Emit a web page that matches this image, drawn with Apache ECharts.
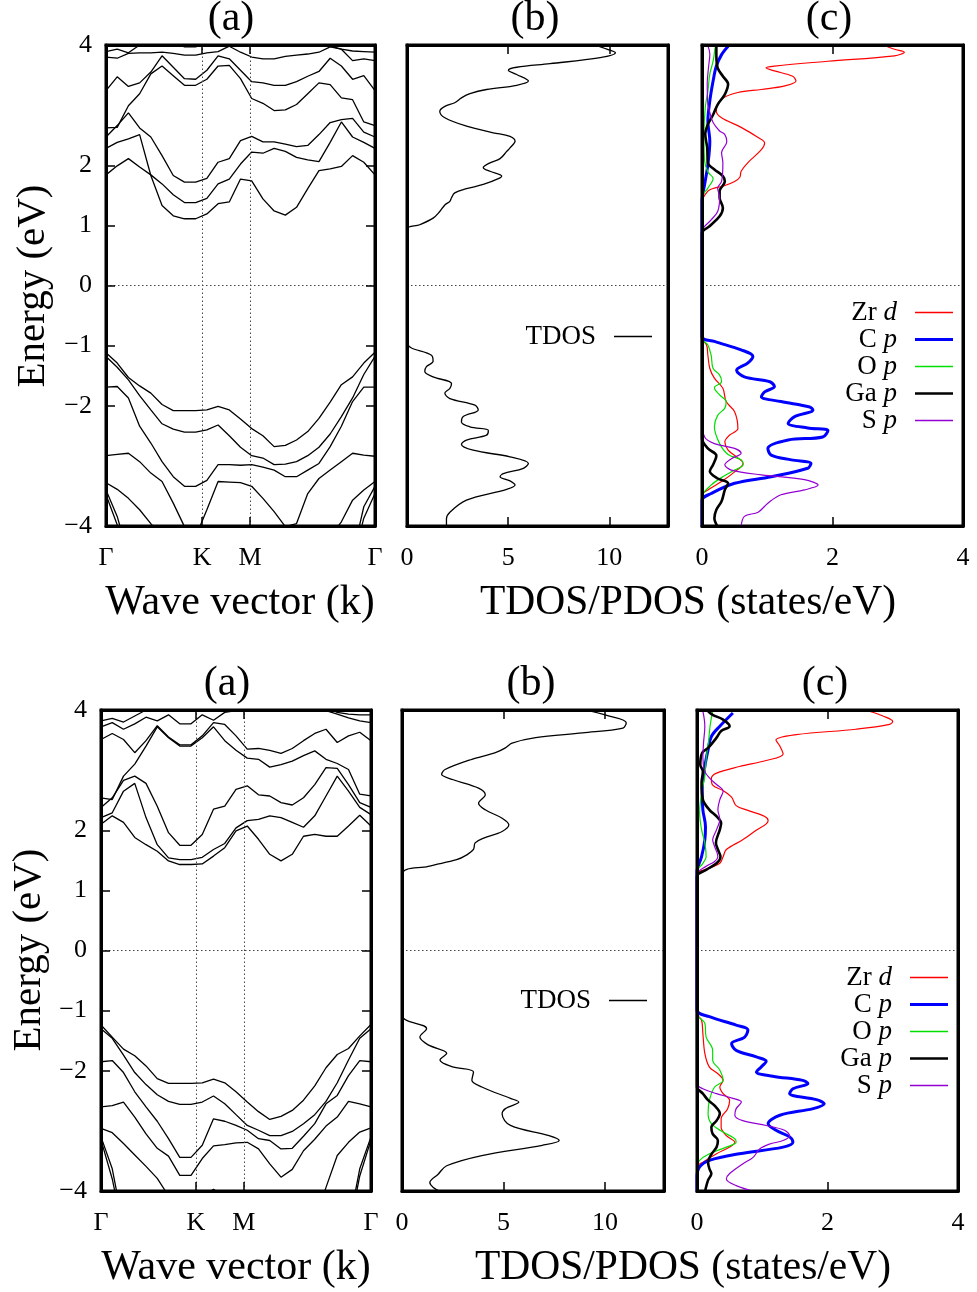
<!DOCTYPE html>
<html>
<head>
<meta charset="utf-8">
<script src="https://cdn.jsdelivr.net/npm/echarts@6/dist/echarts.min.js"></script>
<style>
html, body { margin: 0; padding: 0; background: #fff; }
#chart { width: 977px; height: 1292px; }
</style>
</head>
<body>
<div id="chart"></div>
<script>
// k-point index along the path Γ-K-M-Γ
const kGrid = [0,1,2,3,4,5,6,7,8,9,10,11,12,13,14,15,16,17,18,19,20,21,22,23,24];
const topKTicks = [0, 8.57, 12.86, 24];
const botKTicks = [0, 8.44, 12.7, 24];
const kLabels = ["Γ", "K", "M", "Γ"];
const energyTicks = [-4, -2, -1, 0, 1, 2, 4];
const tdosTicks = [0, 5, 10];
const pdosTicks = [0, 2, 4];

// top row band energies (eV) at each k index
const topCB1 = [2.28,2.38,2.44,2.51,1.83,1.33,1.16,1.11,1.11,1.19,1.36,1.39,1.77,1.74,1.44,1.24,1.17,1.30,1.61,1.91,1.94,1.98,2.16,2.05,1.84];
const topCB2 = [1.84,1.99,2.11,1.97,1.84,1.69,1.51,1.38,1.38,1.45,1.69,1.77,2.02,2.22,2.20,2.28,2.23,2.13,2.09,2.06,2.38,2.72,2.47,2.38,2.28];
const topCB3 = [2.47,2.66,2.87,2.62,2.47,2.16,1.83,1.72,1.72,1.78,2.05,2.11,2.41,2.48,2.39,2.39,2.35,2.31,2.33,2.51,2.71,2.76,2.78,2.55,2.47];
const topCB4 = [2.62,2.63,2.99,3.19,3.52,3.65,3.49,3.33,3.33,3.43,3.65,3.66,3.44,3.11,3.03,2.91,2.92,3.01,3.19,3.37,3.34,3.12,3.09,2.72,2.66];
const topCB5 = [3.24,3.47,3.31,3.37,3.55,3.82,3.63,3.44,3.43,3.58,3.82,3.77,3.58,3.39,3.37,3.33,3.33,3.39,3.48,3.56,3.78,3.65,3.43,3.49,3.24];
const topCB6 = [3.80,3.78,3.86,3.87,3.87,3.88,3.86,3.83,3.83,3.87,3.89,3.98,3.88,3.80,3.77,3.77,3.81,3.83,3.85,3.88,3.97,3.93,3.74,3.77,3.74];
const topCB7 = [3.89,3.93,3.87,4.00,4.10,4.15,4.05,3.97,3.97,4.05,4.15,4.20,4.20,4.15,4.10,4.10,4.10,4.10,4.10,4.05,3.98,3.93,3.90,3.89,3.88];
const topVB1 = [-1.12,-1.29,-1.53,-1.67,-1.79,-1.98,-2.08,-2.08,-2.08,-2.07,-2.01,-2.07,-2.22,-2.38,-2.50,-2.68,-2.66,-2.57,-2.43,-2.21,-1.94,-1.65,-1.52,-1.29,-1.11];
const topVB2 = [-1.18,-1.36,-1.57,-1.83,-2.07,-2.30,-2.39,-2.44,-2.44,-2.40,-2.32,-2.50,-2.69,-2.83,-2.87,-2.98,-2.97,-2.93,-2.83,-2.69,-2.47,-2.18,-1.87,-1.48,-1.18];
const topVB3 = [-1.69,-1.68,-1.87,-2.34,-2.62,-2.93,-3.18,-3.34,-3.34,-3.24,-2.98,-2.98,-2.99,-2.98,-3.02,-3.07,-3.18,-3.18,-3.07,-2.96,-2.68,-2.34,-1.93,-1.69,-1.69];
const topVB4 = [-2.83,-2.81,-2.79,-2.93,-3.12,-3.26,-3.62,-4.01,-4.18,-3.73,-3.26,-3.27,-3.28,-3.34,-3.54,-3.76,-4.01,-3.96,-3.46,-3.21,-3.07,-2.93,-2.79,-2.82,-2.84];
const topVB5 = [-3.28,-3.39,-3.54,-3.73,-3.96,-4.18,-4.5,-4.5,-4.5,-4.5,-4.5,-4.5,-4.5,-4.5,-4.5,-4.5,-4.5,-4.5,-4.5,-4.5,-4.18,-3.93,-3.57,-3.40,-3.26];
const topVB6 = [-3.40,-3.84,-4.5,-4.5,-4.5,-4.5,-4.5,-4.5,-4.5,-4.5,-4.5,-4.5,-4.5,-4.5,-4.5,-4.5,-4.5,-4.5,-4.5,-4.5,-4.5,-4.5,-4.5,-3.68,-3.34];
const topVB7 = [-3.48,-3.98,-4.6,-4.6,-4.6,-4.6,-4.6,-4.6,-4.6,-4.6,-4.6,-4.6,-4.6,-4.6,-4.6,-4.6,-4.6,-4.6,-4.6,-4.6,-4.6,-4.6,-4.6,-3.87,-3.46];

// bottom row band energies (eV)
const botCB1 = [2.10,2.24,2.13,1.88,1.76,1.65,1.49,1.43,1.43,1.44,1.57,1.71,1.99,2.07,1.85,1.60,1.49,1.60,1.90,1.93,1.90,1.90,2.07,2.25,2.07];
const botCB2 = [2.21,2.29,2.65,2.78,2.21,1.76,1.54,1.51,1.51,1.55,1.68,1.78,2.04,2.16,2.18,2.24,2.21,2.13,2.05,2.24,2.57,2.90,2.65,2.38,2.26];
const botCB3 = [2.38,2.54,2.83,2.90,2.78,2.40,1.96,1.75,1.75,1.93,2.35,2.40,2.68,2.74,2.59,2.57,2.46,2.42,2.54,2.76,3.04,3.03,2.76,2.46,2.38];
const botCB4 = [2.54,2.51,2.90,3.10,3.40,3.72,3.54,3.40,3.40,3.54,3.72,3.49,3.33,3.20,3.18,3.05,3.09,3.15,3.24,3.32,3.18,3.11,3.01,2.60,2.57];
const botCB5 = [3.51,3.61,3.51,3.29,3.49,3.74,3.55,3.42,3.42,3.57,3.79,3.76,3.57,3.35,3.36,3.33,3.28,3.36,3.49,3.61,3.68,3.46,3.57,3.63,3.49];
const botCB6 = [3.72,3.79,3.68,3.77,3.88,3.82,3.92,3.77,3.77,3.92,3.83,3.96,3.99,4.10,4.15,4.12,4.10,4.08,4.05,4.02,3.99,3.93,3.87,3.82,3.79];
const botCB7 = [3.82,3.86,3.80,3.90,4.00,4.10,4.10,4.05,4.05,4.10,4.10,4.10,4.10,4.10,4.10,4.10,4.10,4.10,4.10,4.10,4.05,3.96,3.93,3.92,3.92];
const botVB1 = [-1.24,-1.44,-1.64,-1.75,-1.92,-2.13,-2.21,-2.21,-2.21,-2.20,-2.14,-2.20,-2.35,-2.52,-2.68,-2.81,-2.76,-2.66,-2.49,-2.25,-1.95,-1.73,-1.63,-1.42,-1.23];
const botVB2 = [-1.30,-1.46,-1.74,-2.03,-2.23,-2.40,-2.51,-2.56,-2.56,-2.52,-2.42,-2.55,-2.73,-2.91,-2.99,-3.08,-3.08,-3.01,-2.88,-2.73,-2.51,-2.20,-1.82,-1.46,-1.30];
const botVB3 = [-1.85,-1.83,-2.03,-2.35,-2.60,-2.84,-3.13,-3.44,-3.44,-3.24,-2.80,-2.84,-2.91,-2.99,-3.13,-3.16,-3.30,-3.29,-3.09,-2.88,-2.55,-2.41,-2.08,-1.83,-1.85];
const botVB4 = [-2.60,-2.58,-2.52,-2.77,-3.05,-3.29,-3.42,-3.74,-3.74,-3.46,-3.25,-3.23,-3.20,-3.19,-3.30,-3.55,-3.77,-3.64,-3.33,-3.14,-2.92,-2.77,-2.51,-2.55,-2.60];
const botVB5 = [-2.96,-3.03,-3.21,-3.40,-3.59,-3.79,-4.08,-4.5,-4.5,-4.5,-4.5,-4.5,-4.5,-4.5,-4.5,-4.5,-4.5,-4.5,-4.5,-4.5,-3.94,-3.41,-3.19,-3.02,-2.95];
const botVB6 = [-4.5,-4.5,-4.5,-4.5,-4.5,-4.5,-4.5,-4.5,-4.5,-4.10,-3.97,-4.10,-4.5,-4.5,-4.5,-4.5,-4.5,-4.5,-4.5,-4.5,-4.5,-4.5,-4.5,-4.5,-4.5];
const botVB7 = [-3.10,-3.63,-4.6,-4.6,-4.6,-4.6,-4.6,-4.6,-4.6,-4.6,-4.6,-4.6,-4.6,-4.6,-4.6,-4.6,-4.6,-4.6,-4.6,-4.6,-4.6,-4.6,-4.6,-3.63,-3.10];
const botVB8 = [-3.15,-3.80,-4.7,-4.7,-4.7,-4.7,-4.7,-4.7,-4.7,-4.7,-4.7,-4.7,-4.7,-4.7,-4.7,-4.7,-4.7,-4.7,-4.7,-4.7,-4.7,-4.7,-4.7,-3.75,-3.15];

// TDOS [states/eV, eV]; valence from gap downward, conduction from gap upward
const topTdosVal = [[0,-0.94],[1.21,-1.16],[1.29,-1.26],[0.96,-1.35],[0.88,-1.43],[1.29,-1.52],[2.2,-1.63],[2.12,-1.71],[1.87,-1.79],[2.12,-1.88],[3.36,-1.99],[3.52,-2.07],[2.78,-2.18],[2.69,-2.27],[3.11,-2.35],[4.02,-2.41],[3.93,-2.49],[2.94,-2.57],[2.69,-2.64],[3.27,-2.74],[5.09,-2.85],[6.0,-2.96],[5.75,-3.04],[4.76,-3.13],[4.6,-3.18],[5.09,-3.25],[5.34,-3.32],[4.93,-3.39],[2.94,-3.57],[2.12,-3.77],[1.95,-3.88],[1.95,-4.02]];
const topTdosCond = [[0,0.93],[0.63,1.01],[1.29,1.12],[1.62,1.23],[1.87,1.34],[2.12,1.40],[2.2,1.46],[2.36,1.54],[2.94,1.61],[3.77,1.68],[4.6,1.79],[4.68,1.82],[4.1,1.9],[3.77,1.96],[4.1,2.04],[4.6,2.11],[4.93,2.23],[5.09,2.29],[5.34,2.4],[5.09,2.48],[4.26,2.54],[2.94,2.65],[1.87,2.79],[1.62,2.9],[1.87,2.98],[2.36,3.04],[2.69,3.12],[3.11,3.19],[3.93,3.26],[5.42,3.33],[6.0,3.4],[5.42,3.51],[5.01,3.58],[5.42,3.63],[7.07,3.69],[9.55,3.79],[10.3,3.87],[9.88,3.93],[9.22,4.01]];
const botTdosVal = [[0,-1.07],[1.21,-1.30],[0.88,-1.44],[1.29,-1.57],[2.2,-1.71],[1.87,-1.82],[2.45,-1.93],[3.52,-2.02],[3.44,-2.16],[3.93,-2.27],[5.34,-2.46],[5.75,-2.52],[5.09,-2.63],[4.93,-2.72],[5.34,-2.91],[7.24,-3.08],[7.74,-3.16],[6.91,-3.24],[3.93,-3.41],[2.2,-3.58],[1.78,-3.72],[1.37,-3.86],[1.54,-3.94],[1.95,-4.02]];
const botTdosCond = [[0,1.26],[1.29,1.40],[2.69,1.51],[3.19,1.59],[3.52,1.68],[3.6,1.79],[4.02,1.87],[4.93,1.98],[5.26,2.09],[4.93,2.2],[4.1,2.34],[3.77,2.45],[4.1,2.59],[3.77,2.7],[2.53,2.84],[1.95,2.93],[2.12,3.01],[3.44,3.18],[4.6,3.29],[5.09,3.37],[5.42,3.45],[6.58,3.54],[8.89,3.62],[10.88,3.7],[11.04,3.79],[10.21,3.9],[8.89,4.01]];

// PDOS top row
const topZrVal = [[0,-0.88],[0.07,-0.99],[0.09,-1.16],[0.12,-1.38],[0.19,-1.54],[0.32,-1.71],[0.37,-1.93],[0.5,-2.1],[0.55,-2.38],[0.42,-2.49],[0.35,-2.6],[0.4,-2.74],[0.53,-2.85],[0.63,-2.96],[0.5,-3.1],[0.3,-3.26],[0.09,-3.4],[0,-3.48],[0,-4.0]];
const topZrCond = [[0,1.38],[0.09,1.57],[0.19,1.62],[0.32,1.65],[0.5,1.73],[0.58,1.8],[0.6,1.9],[0.7,2.04],[0.91,2.26],[0.96,2.37],[0.86,2.46],[0.6,2.63],[0.3,2.79],[0.22,2.9],[0.3,3.1],[0.55,3.21],[0.91,3.26],[1.27,3.32],[1.44,3.4],[1.39,3.48],[1.11,3.57],[0.98,3.62],[1.11,3.65],[1.93,3.73],[2.95,3.82],[3.1,3.88],[2.95,3.93],[2.77,4.0]];
const topCpVal = [[0,-0.85],[0.19,-0.93],[0.6,-1.07],[0.78,-1.18],[0.7,-1.29],[0.53,-1.41],[0.65,-1.52],[1.04,-1.6],[1.11,-1.68],[0.96,-1.77],[0.91,-1.85],[1.21,-1.93],[1.65,-2.02],[1.7,-2.07],[1.42,-2.18],[1.32,-2.29],[1.62,-2.37],[1.93,-2.41],[1.85,-2.52],[1.32,-2.57],[1.01,-2.71],[1.06,-2.82],[1.37,-2.9],[1.67,-2.96],[1.62,-3.04],[1.06,-3.18],[0.5,-3.29],[0.14,-3.46],[0,-3.57],[0,-4.0]];
const topCpCond = [[0,1.4],[0.04,1.68],[0.09,2.01],[0.12,2.4],[0.09,2.73],[0.12,3.07],[0.17,3.4],[0.22,3.65],[0.3,3.84],[0.4,3.98]];
const topOpVal = [[0,-0.88],[0.09,-0.99],[0.14,-1.16],[0.17,-1.38],[0.27,-1.49],[0.3,-1.6],[0.19,-1.7],[0.27,-1.82],[0.37,-1.93],[0.35,-2.04],[0.24,-2.16],[0.19,-2.35],[0.27,-2.63],[0.4,-2.81],[0.6,-2.9],[0.63,-2.98],[0.5,-3.07],[0.35,-3.16],[0.14,-3.32],[0,-3.52],[0,-4.0]];
const topOpCond = [[0,1.46],[0.09,1.62],[0.17,1.78],[0.09,1.89],[0.04,2.07],[0.03,2.51],[0.05,2.96],[0.09,3.23],[0.12,3.52],[0.17,3.73],[0.2,3.96]];
const topGapVal = [[0,-2.54],[0.09,-2.71],[0.22,-2.83],[0.17,-2.98],[0.12,-3.09],[0.24,-3.21],[0.4,-3.29],[0.35,-3.4],[0.3,-3.59],[0.22,-3.73],[0.19,-3.87],[0.24,-4.01]];
const topGapCond = [[0,0.87],[0.12,0.99],[0.27,1.15],[0.32,1.29],[0.27,1.46],[0.27,1.57],[0.35,1.73],[0.32,1.82],[0.19,1.93],[0.09,2.04],[0.08,2.29],[0.05,2.52],[0.09,2.68],[0.17,2.84],[0.24,3.01],[0.35,3.18],[0.4,3.35],[0.32,3.48],[0.24,3.62],[0.22,3.84],[0.22,3.98]];
const topSpVal = [[0,-2.21],[0.04,-2.52],[0.19,-2.63],[0.5,-2.71],[0.6,-2.79],[0.45,-2.88],[0.35,-2.98],[0.45,-3.07],[0.91,-3.15],[1.57,-3.23],[1.78,-3.32],[1.57,-3.4],[1.21,-3.48],[1.01,-3.62],[0.86,-3.77],[0.65,-3.84],[0.6,-4.01]];
const topSpCond = [[0,0.9],[0.14,1.09],[0.24,1.23],[0.27,1.46],[0.24,1.62],[0.3,1.73],[0.32,2.04],[0.3,2.21],[0.38,2.39],[0.35,2.51],[0.27,2.57],[0.17,2.71],[0.12,2.88],[0.09,3.01],[0.08,3.35],[0.1,3.63],[0.12,3.85],[0.09,3.99]];

// PDOS bottom row
const botZrVal = [[0,-1.05],[0.07,-1.16],[0.09,-1.38],[0.12,-1.71],[0.19,-1.94],[0.32,-2.05],[0.4,-2.16],[0.35,-2.27],[0.4,-2.38],[0.5,-2.49],[0.47,-2.63],[0.37,-2.8],[0.37,-2.94],[0.45,-3.08],[0.58,-3.19],[0.5,-3.27],[0.3,-3.38],[0.09,-3.52],[0,-3.6],[0,-4.0]];
const botZrCond = [[0,1.26],[0.19,1.37],[0.35,1.45],[0.4,1.56],[0.45,1.68],[0.7,1.84],[0.88,1.98],[1.09,2.16],[1.04,2.23],[0.78,2.33],[0.6,2.41],[0.53,2.55],[0.4,2.66],[0.24,2.75],[0.22,2.86],[0.3,2.95],[0.65,3.06],[1.06,3.16],[1.32,3.27],[1.27,3.4],[1.21,3.5],[1.52,3.59],[2.44,3.68],[2.95,3.76],[3.0,3.81],[2.85,3.9],[2.64,3.98]];
const botCpVal = [[0,-0.99],[0.19,-1.1],[0.6,-1.24],[0.78,-1.32],[0.73,-1.44],[0.53,-1.55],[0.6,-1.66],[0.91,-1.77],[1.06,-1.84],[0.98,-1.94],[0.91,-2.02],[1.16,-2.09],[1.62,-2.16],[1.7,-2.21],[1.47,-2.3],[1.42,-2.38],[1.83,-2.48],[1.95,-2.55],[1.78,-2.63],[1.27,-2.74],[1.09,-2.88],[1.21,-2.99],[1.42,-3.1],[1.47,-3.19],[1.32,-3.27],[0.65,-3.38],[0.19,-3.49],[0.04,-3.6],[0,-3.77],[0,-4.0]];
const botCpCond = [[0,1.31],[0.07,1.56],[0.12,1.84],[0.13,2.06],[0.09,2.34],[0.08,2.68],[0.12,3.06],[0.17,3.34],[0.22,3.56],[0.35,3.73],[0.55,3.95]];
const botOpVal = [[0,-1.05],[0.12,-1.21],[0.14,-1.44],[0.24,-1.66],[0.24,-1.82],[0.35,-1.99],[0.4,-2.16],[0.27,-2.27],[0.19,-2.49],[0.17,-2.71],[0.22,-2.88],[0.4,-3.02],[0.58,-3.13],[0.6,-3.19],[0.45,-3.27],[0.19,-3.38],[0.04,-3.49],[0,-3.6],[0,-4.0]];
const botOpCond = [[0,1.31],[0.09,1.45],[0.14,1.56],[0.12,1.79],[0.07,2.01],[0.04,2.29],[0.07,2.62],[0.12,2.9],[0.14,3.18],[0.18,3.51],[0.2,3.73],[0.24,3.98]];
const botGapVal = [[0,-2.27],[0.09,-2.38],[0.17,-2.49],[0.27,-2.58],[0.35,-2.71],[0.3,-2.83],[0.22,-2.94],[0.24,-3.05],[0.32,-3.16],[0.3,-3.27],[0.22,-3.39],[0.17,-3.52],[0.19,-3.63],[0.22,-3.71],[0.17,-3.82],[0.12,-4.02]];
const botGapCond = [[0,1.23],[0.14,1.34],[0.3,1.45],[0.36,1.56],[0.32,1.68],[0.29,1.79],[0.35,2.01],[0.37,2.12],[0.3,2.23],[0.19,2.34],[0.09,2.51],[0.07,2.79],[0.09,2.98],[0.05,3.09],[0.08,3.29],[0.17,3.37],[0.3,3.54],[0.37,3.65],[0.5,3.73],[0.4,3.84],[0.24,3.92],[0.17,3.98]];
const botSpVal = [[0,-2.21],[0.09,-2.3],[0.3,-2.38],[0.55,-2.46],[0.68,-2.52],[0.6,-2.63],[0.58,-2.74],[0.7,-2.83],[1.06,-2.91],[1.34,-2.99],[1.42,-3.08],[1.32,-3.16],[1.11,-3.22],[0.96,-3.3],[0.86,-3.44],[0.7,-3.55],[0.5,-3.71],[0.45,-3.8],[0.6,-3.91],[0.91,-4.02]];
const botSpCond = [[0,1.26],[0.14,1.4],[0.27,1.48],[0.32,1.56],[0.27,1.73],[0.24,1.84],[0.3,2.01],[0.35,2.18],[0.32,2.34],[0.35,2.51],[0.4,2.65],[0.3,2.76],[0.19,2.87],[0.12,2.98],[0.09,3.2],[0.1,3.45],[0.12,3.73],[0.09,3.98]];

const pdosNames = ["Zr d", "C p", "O p", "Ga p", "S p"];
const pdosColors = ["#ff0000", "#0000ff", "#00e000", "#000000", "#9400d3"];
const pdosWidths = [1.2, 3, 1.2, 2.6, 1.2];

const FONT = "Liberation Serif";
const tickLine = { color: "#000", width: 1.5 };
const frameLine = { color: "#000", width: 3 };

const grids = [
  { left: 106, top: 45, width: 269, height: 481 },
  { left: 407, top: 45, width: 261, height: 481 },
  { left: 702, top: 45, width: 261, height: 481 },
  { left: 101, top: 710, width: 270, height: 481 },
  { left: 402, top: 710, width: 262, height: 481 },
  { left: 697, top: 710, width: 261, height: 481 },
].map(function(g) {
  return Object.assign({ show: true, borderColor: "#000", borderWidth: 3, containLabel: false, outerBoundsMode: "none" }, g);
});

function xPair(g, max, labelVals, tickVals, fmt) {
  var out = [];
  ["bottom", "top"].forEach(function(pos) {
    out.push({
      gridIndex: g, type: "value", min: 0, max: max, position: pos, z: 10,
      splitLine: { show: false },
      axisLine: { show: true, onZero: false, lineStyle: frameLine },
      axisTick: { show: true, inside: true, length: 9, customValues: tickVals, lineStyle: tickLine },
      axisLabel: pos === "bottom"
        ? { show: true, customValues: labelVals, formatter: fmt, margin: 19, color: "#000", fontFamily: FONT, fontSize: 26 }
        : { show: false },
    });
  });
  return out;
}

function yPair(g, withTicks) {
  var out = [];
  ["left", "right"].forEach(function(pos) {
    out.push({
      gridIndex: g, type: "value", min: -4, max: 4, position: pos, z: 10,
      splitLine: { show: false },
      axisLine: { show: true, onZero: false, lineStyle: frameLine },
      axisTick: withTicks
        ? { show: true, inside: true, length: 9, customValues: energyTicks, lineStyle: tickLine }
        : { show: false },
      axisLabel: withTicks && pos === "left"
        ? {
          show: true, customValues: energyTicks, margin: 14, color: "#000", fontFamily: FONT, fontSize: 26,
          formatter: function(v) { return v < 0 ? "\u2212" + Math.abs(v) : String(v); },
        }
        : { show: false },
    });
  });
  return out;
}

function kFormatter(ticks) {
  return function(v) {
    for (var i = 0; i < ticks.length; i++) {
      if (Math.abs(ticks[i] - v) < 0.01) return kLabels[i];
    }
    return "";
  };
}

var xAxes = [].concat(
  xPair(0, 24, topKTicks, topKTicks.slice(1, 3), kFormatter(topKTicks)),
  xPair(1, 12.9, tdosTicks, [5, 10]),
  xPair(2, 4, pdosTicks, [2]),
  xPair(3, 24, botKTicks, botKTicks.slice(1, 3), kFormatter(botKTicks)),
  xPair(4, 12.9, tdosTicks, [5, 10]),
  xPair(5, 4, pdosTicks, [2]),
);
var yAxes = [].concat(yPair(0, true), yPair(1, false), yPair(2, false), yPair(3, true), yPair(4, false), yPair(5, false));

var dotted = { type: [1.5, 2.5], color: "#444", width: 1 };

function refLines(lines) {
  return { silent: true, symbol: ["none", "none"], label: { show: false }, lineStyle: dotted, animation: false, data: lines };
}

function bandSeries(bands, g, kTicks) {
  return bands.map(function(b, j) {
    var s = {
      type: "line", xAxisIndex: 2 * g, yAxisIndex: 2 * g,
      data: kGrid.map(function(k, i) { return [k, b[i]]; }),
      symbol: "none", silent: true, animation: false,
      lineStyle: { color: "#000", width: 1.3 },
    };
    if (j === 0) {
      s.markLine = refLines([{ yAxis: 0 }, { xAxis: kTicks[1] }, { xAxis: kTicks[2] }]);
    }
    return s;
  });
}

function dosSeries(name, g, val, cond, color, width, zero) {
  var s = {
    name: name, type: "line", xAxisIndex: 2 * g, yAxisIndex: 2 * g,
    data: val.slice().reverse().concat(cond),
    smooth: 0.35, symbol: "none", animation: false,
    lineStyle: { color: color, width: width }, itemStyle: { color: color },
  };
  if (zero) s.markLine = refLines([{ yAxis: 0 }]);
  return s;
}

var series = [].concat(
  bandSeries([topCB1, topCB2, topCB3, topCB4, topCB5, topCB6, topCB7, topVB1, topVB2, topVB3, topVB4, topVB5, topVB6, topVB7], 0, topKTicks),
  bandSeries([botCB1, botCB2, botCB3, botCB4, botCB5, botCB6, botCB7, botVB1, botVB2, botVB3, botVB4, botVB5, botVB6, botVB7, botVB8], 3, botKTicks),
  [dosSeries("TDOS", 1, topTdosVal, topTdosCond, "#000", 1.3, true),
   dosSeries("TDOS", 4, botTdosVal, botTdosCond, "#000", 1.3, true)],
);

var topP = [[topZrVal, topZrCond], [topCpVal, topCpCond], [topOpVal, topOpCond], [topGapVal, topGapCond], [topSpVal, topSpCond]];
var botP = [[botZrVal, botZrCond], [botCpVal, botCpCond], [botOpVal, botOpCond], [botGapVal, botGapCond], [botSpVal, botSpCond]];
topP.forEach(function(p, i) {
  series.push(dosSeries(pdosNames[i], 2, p[0], p[1], pdosColors[i], pdosWidths[i], i === 0));
});
botP.forEach(function(p, i) {
  series.push(dosSeries(pdosNames[i], 5, p[0], p[1], pdosColors[i], pdosWidths[i], i === 0));
});

var richText = {
  n: { fontFamily: FONT, fontSize: 27, color: "#000", lineHeight: 28 },
  i: { fontFamily: FONT, fontSize: 27, color: "#000", lineHeight: 28, fontStyle: "italic", padding: [0, 13, 0, 0] },
  t: { fontFamily: FONT, fontSize: 27, color: "#000", lineHeight: 28, padding: [0, 13, 0, 0] },
};

function pdosLegend(right, top) {
  return {
    orient: "vertical", right: right, top: top, align: "right", padding: 0,
    itemWidth: 38, itemHeight: 28, itemGap: 0, selectedMode: false,
    itemStyle: { borderWidth: 0 },
    data: pdosNames.map(function(n, i) {
      return { name: n, icon: "path://M0,0h40v" + (pdosWidths[i] + 0.2) + "h-40z" };
    }),
    formatter: function(name) {
      var parts = name.split(" ");
      return "{n|" + parts[0] + " }{i|" + parts[1] + "}";
    },
    textStyle: { rich: richText },
  };
}

function tdosLegend(right, top) {
  return {
    orient: "vertical", right: right, top: top, align: "right", padding: 0,
    itemWidth: 38, itemHeight: 28, selectedMode: false,
    itemStyle: { borderWidth: 0 },
    data: [{ name: "TDOS", icon: "path://M0,0h40v1.5h-40z" }],
    formatter: function(name) { return "{t|" + name + "}"; },
    textStyle: { rich: richText },
  };
}

function label(text, x, y, size, rot) {
  return {
    type: "text", x: x, y: y, rotation: rot || 0, silent: true,
    style: { text: text, fontFamily: FONT, fontSize: size, fill: "#000", align: "center", verticalAlign: "middle" },
  };
}

var chart = echarts.init(document.getElementById("chart"));
chart.setOption({
  backgroundColor: "#fff",
  animation: false,
  grid: grids,
  xAxis: xAxes,
  yAxis: yAxes,
  legend: [tdosLegend(325, 323), pdosLegend(24, 299), tdosLegend(330, 987), pdosLegend(29, 964)],
  series: series,
  graphic: [
    label("(a)", 231, 19, 42), label("(b)", 535, 19, 42), label("(c)", 829, 19, 42),
    label("(a)", 227, 684, 42), label("(b)", 531, 684, 42), label("(c)", 825, 684, 42),
    label("Wave vector (k)", 240, 603, 42), label("TDOS/PDOS (states/eV)", 688, 603, 41.5),
    label("Wave vector (k)", 236, 1268, 42), label("TDOS/PDOS (states/eV)", 683, 1268, 41.5),
    label("Energy (eV)", 33, 286, 41), label("Energy (eV)", 29, 950, 41),
  ].map(function(el, i) {
    if (i >= 10) el.rotation = Math.PI / 2;
    return el;
  }),
});
</script>
</body>
</html>
